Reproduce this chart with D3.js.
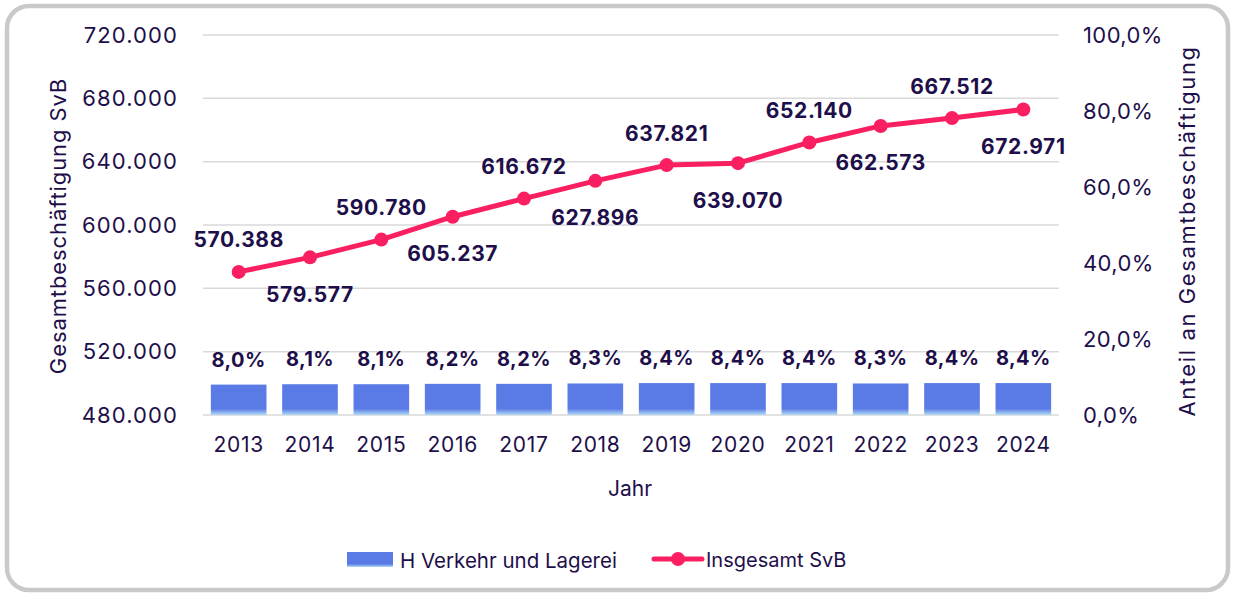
<!DOCTYPE html>
<html>
<head>
<meta charset="utf-8">
<script src="https://cdn.jsdelivr.net/npm/d3@7"></script>
<style>
  body { margin: 0; background: #fff; }
  text { font-family: Inter, "Noto Sans", sans-serif; fill: #1e0f4b; }
</style>
</head>
<body>
<svg id="chart" width="1234" height="594"></svg>
<script>
let years = ["2013","2014","2015","2016","2017","2018","2019","2020","2021","2022","2023","2024"];
let totalSvB = [570388, 579577, 590780, 605237, 616672, 627896, 637821, 639070, 652140, 662573, 667512, 672971];
let shareH = [8.0, 8.1, 8.1, 8.2, 8.2, 8.3, 8.4, 8.4, 8.4, 8.3, 8.4, 8.4];
let leftTicks = [480000, 520000, 560000, 600000, 640000, 680000, 720000];
let rightTicks = [0, 20, 40, 60, 80, 100];

let de = d3.formatLocale({decimal: ",", thousands: ".", grouping: [3], currency: ["", "€"]});
let fmtInt = de.format(",d");
let fmtPct = v => de.format(".1f")(v) + "%";

let svg = d3.select("#chart");
let textColor = "#1e0f4b";
let lineColor = "#fa1f60";
let barColor = "#5a7be6";

// frame
svg.append("rect")
  .attr("x", 7).attr("y", 6)
  .attr("width", 1221).attr("height", 584)
  .attr("rx", 22)
  .attr("fill", "#fff")
  .attr("stroke", "#c9c9c9")
  .attr("stroke-width", 4.5);

let defs = svg.append("defs");
let grad = defs.append("linearGradient").attr("id", "barGrad")
  .attr("x1", 0).attr("y1", 0).attr("x2", 0).attr("y2", 1);
grad.append("stop").attr("offset", "0").attr("stop-color", barColor);
grad.append("stop").attr("offset", "0.8").attr("stop-color", barColor);
grad.append("stop").attr("offset", "1").attr("stop-color", "#b3dcf5");

let scales = {
  x: d3.scaleBand().domain(years).range([203, 1059]).paddingInner(0.22).paddingOuter(0.11),
  left: d3.scaleLinear().domain([480000, 720000]).range([415, 35]),
  right: d3.scaleLinear().domain([0, 100]).range([415, 35])
};

// grid lines
svg.append("g").selectAll("line")
  .data(leftTicks)
  .enter()
  .append("line")
  .attr("x1", 203).attr("x2", 1059)
  .attr("y1", d => scales.left(d)).attr("y2", d => scales.left(d))
  .style("stroke", "#d9d9d9")
  .style("stroke-width", 1.5);

// left axis
let leftAxis = svg.append("g")
  .attr("transform", "translate(188,0)")
  .call(d3.axisLeft(scales.left).tickValues(leftTicks).tickFormat(fmtInt).tickSize(0).tickPadding(10));
leftAxis.select(".domain").remove();
leftAxis.selectAll("text").style("font-size", "22px").style("letter-spacing", "1.1px")
  .attr("fill", textColor).attr("font-family", null);

// right axis
let rightAxis = svg.append("g")
  .attr("transform", "translate(1073,0)")
  .call(d3.axisRight(scales.right).tickValues(rightTicks).tickFormat(fmtPct).tickSize(0).tickPadding(10));
rightAxis.select(".domain").remove();
rightAxis.selectAll("text").style("font-size", "22px").style("letter-spacing", "0.4px")
  .attr("fill", textColor).attr("font-family", null);

// x axis
let xAxis = svg.append("g")
  .attr("transform", "translate(0,415)")
  .call(d3.axisBottom(scales.x).tickSize(0).tickPadding(22));
xAxis.select(".domain").remove();
xAxis.selectAll("text").style("font-size", "21px").style("letter-spacing", "0.7px")
  .attr("fill", textColor).attr("font-family", null);

// axis titles
svg.append("text")
  .attr("transform", "translate(58,226) rotate(-90)")
  .attr("text-anchor", "middle")
  .attr("dominant-baseline", "central")
  .style("font-size", "22px")
  .style("letter-spacing", "0.9px")
  .text("Gesamtbeschäftigung SvB");

svg.append("text")
  .attr("transform", "translate(1187,231) rotate(-90)")
  .attr("text-anchor", "middle")
  .attr("dominant-baseline", "central")
  .style("font-size", "22px")
  .style("letter-spacing", "1.6px")
  .text("Anteil an Gesamtbeschäftigung");

svg.append("text")
  .attr("x", 630).attr("y", 488)
  .attr("text-anchor", "middle")
  .attr("dominant-baseline", "central")
  .style("font-size", "21px")
  .text("Jahr");

// bars
let gbars = svg.append("g").selectAll(".bar")
  .data(years)
  .enter()
  .append("g")
  .attr("class", "bar");

gbars.append("rect")
  .attr("x", d => scales.x(d))
  .attr("width", scales.x.bandwidth())
  .attr("y", (d, i) => scales.right(shareH[i]))
  .attr("height", (d, i) => scales.right(0) - scales.right(shareH[i]))
  .attr("fill", "url(#barGrad)");

gbars.append("text")
  .attr("x", d => scales.x(d) + scales.x.bandwidth() / 2)
  .attr("y", (d, i) => scales.right(shareH[i]) - 25)
  .attr("text-anchor", "middle")
  .attr("dominant-baseline", "central")
  .style("font-size", "20px")
  .style("font-weight", "bold")
  .style("letter-spacing", "0.4px")
  .text((d, i) => fmtPct(shareH[i]));

// line
let cx = d => scales.x(d) + scales.x.bandwidth() / 2;
let line = d3.line()
  .x((d, i) => cx(years[i]))
  .y(d => scales.left(d));

svg.append("path")
  .datum(totalSvB)
  .attr("d", line)
  .attr("fill", "none")
  .style("stroke", lineColor)
  .style("stroke-width", 5)
  .style("stroke-linejoin", "round");

svg.append("g").selectAll("circle")
  .data(totalSvB)
  .enter()
  .append("circle")
  .attr("cx", (d, i) => cx(years[i]))
  .attr("cy", d => scales.left(d))
  .attr("r", 7)
  .attr("fill", lineColor);

svg.append("g").selectAll("text")
  .data(totalSvB)
  .enter()
  .append("text")
  .attr("x", (d, i) => cx(years[i]))
  .attr("y", (d, i) => scales.left(d) + (i % 2 === 0 ? -32 : 37))
  .attr("text-anchor", "middle")
  .attr("dominant-baseline", "central")
  .style("font-size", "21px")
  .style("font-weight", "bold")
  .style("letter-spacing", "0.6px")
  .text(d => fmtInt(d));

// legend
let legend = svg.append("g");
legend.append("rect")
  .attr("x", 347).attr("y", 552)
  .attr("width", 46).attr("height", 15)
  .attr("fill", "url(#barGrad)");
legend.append("text")
  .attr("x", 400).attr("y", 560)
  .attr("dominant-baseline", "central")
  .style("font-size", "20.5px")
  .text("H Verkehr und Lagerei");

legend.append("line")
  .attr("x1", 654).attr("x2", 702)
  .attr("y1", 559).attr("y2", 559)
  .style("stroke", lineColor)
  .style("stroke-width", 5)
  .style("stroke-linecap", "round");
legend.append("circle")
  .attr("cx", 678).attr("cy", 559).attr("r", 7)
  .attr("fill", lineColor);
legend.append("text")
  .attr("x", 706).attr("y", 560)
  .attr("dominant-baseline", "central")
  .style("font-size", "20px")
  .text("Insgesamt SvB");
</script>
</body>
</html>
